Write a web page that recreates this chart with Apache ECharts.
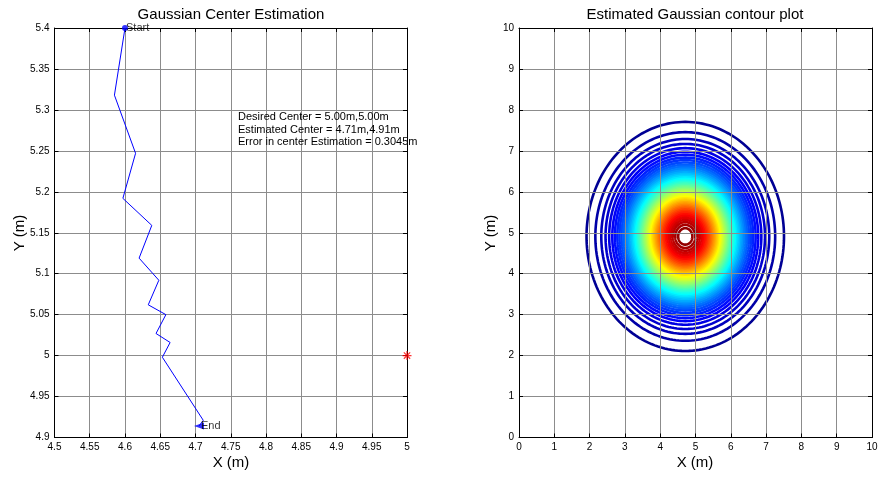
<!DOCTYPE html>
<html><head><meta charset="utf-8">
<script src="https://cdn.jsdelivr.net/npm/echarts@6/dist/echarts.min.js"></script>
<style>html,body{margin:0;padding:0;background:#fff}#c{width:881px;height:477px}</style>
</head><body><div id="c"></div>
<script>
// ---- data ----
const pathX = [4.600,4.585,4.615,4.597,4.638,4.620,4.648,4.633,4.658,4.644,4.664,4.653,4.711,4.705];
const pathY = [5.400,5.318,5.247,5.192,5.159,5.119,5.092,5.062,5.050,5.027,5.016,4.998,4.921,4.914];
const pathLabels = ['Start', 'End'];
const desiredCenter = [5.0, 5.0];
const estimatedCenter = [4.71, 4.91];
const gaussSigma = 1.0;
const contourLevels = [0.020,0.039,0.059,0.078,0.098,0.118,0.137,0.157,0.176,0.196,
  0.216,0.235,0.255,0.275,0.294,0.314,0.333,0.353,0.373,0.392,
  0.412,0.431,0.451,0.471,0.490,0.510,0.529,0.549,0.569,0.588,
  0.608,0.627,0.647,0.667,0.686,0.706,0.725,0.745,0.765,0.784,
  0.804,0.824,0.843,0.863,0.882,0.902,0.922,0.941,0.961,0.980];
const leftXRange = [4.5, 5.0, 0.05];
const leftYRange = [4.9, 5.4, 0.05];
const rightXRange = [0, 10, 1];
const rightYRange = [0, 10, 1];
const infoLines = ['Desired Center = 5.00m,5.00m', 'Estimated Center = 4.71m,4.91m', 'Error in center Estimation = 0.3045m'];
const titles = ['Gaussian Center Estimation', 'Estimated Gaussian contour plot'];
const axisNames = ['X (m)', 'Y (m)'];

// ---- helpers ----
const F = '"Liberation Sans", Arial, Helvetica, sans-serif';
function jet(t) {
  const c = v => Math.round(255 * Math.max(0, Math.min(1, v)));
  return 'rgb(' + c(1.5 - Math.abs(4 * t - 3)) + ',' + c(1.5 - Math.abs(4 * t - 2)) + ',' + c(1.5 - Math.abs(4 * t - 1)) + ')';
}
function mainAxis(gridIndex, range, position, z) {
  return {
    type: 'value', gridIndex, position, min: range[0], max: range[1], interval: range[2], z: z || 0,
    axisLine: { show: true, onZero: false, lineStyle: { color: '#000', width: 1 } },
    axisTick: { show: true, inside: true, length: 4, lineStyle: { color: '#000' } },
    axisLabel: { show: true, color: '#000', fontSize: 10, fontFamily: F, margin: 5, showMinLabel: true, showMaxLabel: true },
    splitLine: { show: true, lineStyle: { color: '#8c8c8c', width: 1 } }
  };
}
function mirrorAxis(gridIndex, range, position, z) {
  return {
    type: 'value', gridIndex, position, min: range[0], max: range[1], interval: range[2], z: z || 0,
    axisLine: { show: true, onZero: false, lineStyle: { color: '#000', width: 1 } },
    axisTick: { show: true, inside: true, length: 4, lineStyle: { color: '#000' } },
    axisLabel: { show: false },
    splitLine: { show: false }
  };
}

const chart = echarts.init(document.getElementById('c'), null, { renderer: 'canvas' });
const pathData = pathX.map((x, i) => [x, pathY[i]]);
const last = pathData.length - 1;

const option = {
  animation: false,
  backgroundColor: '#fff',
  grid: [
    { left: 54.5, right: 474, top: 28, bottom: 39.5, containLabel: false, outerBoundsMode: 'none' },
    { left: 519, right: 9, top: 28, bottom: 39.5, containLabel: false, outerBoundsMode: 'none' }
  ],
  xAxis: [
    mainAxis(0, leftXRange, 'bottom'),
    mirrorAxis(0, leftXRange, 'top'),
    mainAxis(1, rightXRange, 'bottom', 5),
    mirrorAxis(1, rightXRange, 'top', 5)
  ],
  yAxis: [
    mainAxis(0, leftYRange, 'left'),
    mirrorAxis(0, leftYRange, 'right'),
    mainAxis(1, rightYRange, 'left', 5),
    mirrorAxis(1, rightYRange, 'right', 5)
  ],
  series: [
    {
      type: 'line', xAxisIndex: 0, yAxisIndex: 0, data: pathData, showSymbol: false, symbol: 'none',
      lineStyle: { color: '#0000ff', width: 1 }, z: 3
    },
    {
      type: 'scatter', xAxisIndex: 0, yAxisIndex: 0, data: [pathData[0]], symbol: 'circle', symbolSize: 6,
      itemStyle: { color: '#0000ff' }, z: 4, clip: false,
      label: { show: true, formatter: pathLabels[0], position: 'right', distance: -2, color: '#000', fontSize: 11, fontFamily: F }
    },
    {
      type: 'scatter', xAxisIndex: 0, yAxisIndex: 0, data: [pathData[last]], symbol: 'triangle', symbolSize: [7, 10], symbolRotate: 90,
      itemStyle: { color: '#0000ff' }, z: 4, clip: false,
      label: { show: true, formatter: pathLabels[1], position: 'right', distance: -3, color: '#000', fontSize: 11, fontFamily: F }
    },
    {
      type: 'scatter', xAxisIndex: 0, yAxisIndex: 0, data: [desiredCenter], clip: false, z: 4,
      symbol: 'path://M0,-10L0,10M-10,0L10,0M-7,-7L7,7M-7,7L7,-7', symbolSize: 9,
      itemStyle: { color: 'none', borderColor: '#ff0000', borderWidth: 1.2 }
    },
    {
      type: 'custom', xAxisIndex: 2, yAxisIndex: 2, coordinateSystem: 'cartesian2d', z: 1,
      data: contourLevels.map(L => [estimatedCenter[0], estimatedCenter[1], L]),
      encode: { x: 0, y: 1 },
      renderItem: function (params, api) {
        const cx = api.value(0), cy = api.value(1), L = api.value(2);
        const r = gaussSigma * Math.sqrt(-2 * Math.log(L));
        const pts = [];
        const N = 180;
        for (let i = 0; i <= N; i++) {
          const a = i / N * 2 * Math.PI;
          pts.push(api.coord([cx + r * Math.cos(a), cy + r * Math.sin(a)]));
        }
        return { type: 'polyline', shape: { points: pts }, style: { stroke: jet(L), lineWidth: 2.6, fill: null } };
      }
    }
  ],
  graphic: [
    { type: 'text', x: 231, y: 15, style: { text: titles[0], font: '15px ' + F, fill: '#000', align: 'center', verticalAlign: 'middle' } },
    { type: 'text', x: 695, y: 15, style: { text: titles[1], font: '15px ' + F, fill: '#000', align: 'center', verticalAlign: 'middle' } },
    { type: 'text', x: 231, y: 463, style: { text: axisNames[0], font: '15px ' + F, fill: '#000', align: 'center', verticalAlign: 'middle' } },
    { type: 'text', x: 695, y: 463, style: { text: axisNames[0], font: '15px ' + F, fill: '#000', align: 'center', verticalAlign: 'middle' } },
    { type: 'text', x: 20, y: 233, rotation: Math.PI / 2, style: { text: axisNames[1], font: '15px ' + F, fill: '#000', align: 'center', verticalAlign: 'middle' } },
    { type: 'text', x: 491, y: 233, rotation: Math.PI / 2, style: { text: axisNames[1], font: '15px ' + F, fill: '#000', align: 'center', verticalAlign: 'middle' } },
    { type: 'text', x: 238, y: 111, z: 10, style: { text: infoLines.join('\n'), font: '11px ' + F, lineHeight: 12.5, fill: '#000', align: 'left', verticalAlign: 'top' } }
  ]
};
chart.setOption(option);
</script>
</body></html>
